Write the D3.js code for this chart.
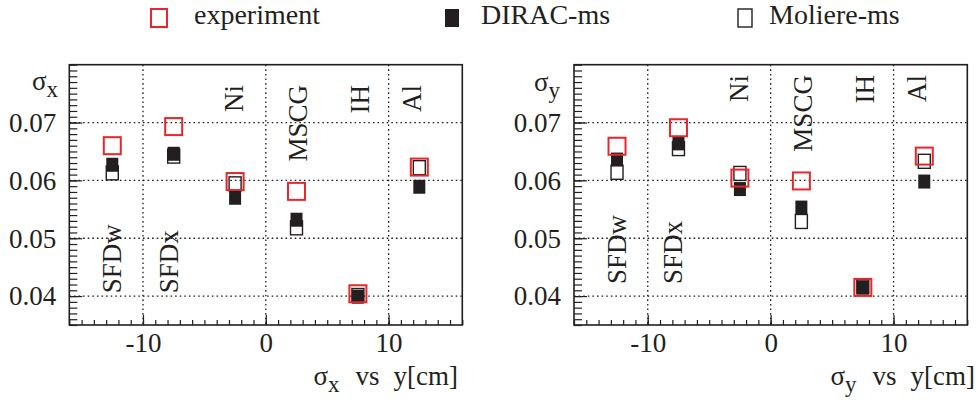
<!DOCTYPE html>
<html>
<head>
<meta charset="utf-8">
<script src="https://cdn.jsdelivr.net/npm/d3@7"></script>
<style>
  body { margin: 0; background: #fff; }
  text { font-family: "Liberation Serif", "Times New Roman", serif; fill: #231f20; }
</style>
</head>
<body>
<svg id="chart" width="978" height="405"></svg>
<script>
// Detector stations along the beam, their y position [cm]
const stations = ["SFDw", "SFDx", "Ni", "MSCG", "IH", "Al"];
const stationY = [-12.5, -7.5, -2.5, 2.5, 7.5, 12.5];

// sigma_x per station
const expSigmaX     = [0.0660, 0.0693, 0.0598, 0.0581, 0.0404, 0.0623];
const diracSigmaX   = [0.0627, 0.0646, 0.0570, 0.0532, 0.0399, 0.0589];
const moliereSigmaX = [0.0613, 0.0642, 0.0594, 0.0518, 0.0401, 0.0622];

// sigma_y per station
const expSigmaY     = [0.0659, 0.0691, 0.0604, 0.0599, 0.0415, 0.0642];
const diracSigmaY   = [0.0636, 0.0664, 0.0585, 0.0553, 0.0415, 0.0598];
const moliereSigmaY = [0.0614, 0.0655, 0.0612, 0.0529, 0.0416, 0.0633];

// Axis ranges and ticks
const xDomain = [-16, 16];
const yDomain = [0.035, 0.080];
const xMajorTicks = [-10, 0, 10];
const yMajorTicks = [0.04, 0.05, 0.06, 0.07];

// Legend entries
const legendLabels = ["experiment", "DIRAC-ms", "Moliere-ms"];

// Where the station names sit (x in cm)
const stationLabelX = [-12.5, -7.9, -2.6, 2.6, 7.7, 11.9];
const bottomLabels = ["SFDw", "SFDx"];

const ink = "#231f20";
const red = "#e8262b";
const font = 27;

const svg = d3.select("#chart");
const frameTop = 64.7, frameBottom = 325;

const panels = [
  { x0: 69.3, x1: 462.3, sym: "x", exp: expSigmaX, dirac: diracSigmaX, moliere: moliereSigmaX,
    labelTop: 0.0765, labelBottom: 0.0405, yTitleRight: 58, yTitleBase: 90, xTitleRight: 458 },
  { x0: 574.0, x1: 967.3, sym: "y", exp: expSigmaY, dirac: diracSigmaY, moliere: moliereSigmaY,
    labelTop: 0.0782, labelBottom: 0.0421, yTitleRight: 560, yTitleBase: 91, xTitleRight: 975 }
];

function drawPanel(p) {
  const x = d3.scaleLinear().domain(xDomain).range([p.x0, p.x1]);
  const y = d3.scaleLinear().domain(yDomain).range([frameBottom, frameTop]);
  const g = svg.append("g");

  // dotted grid at the major ticks
  g.append("g").selectAll("line").data(xMajorTicks).join("line")
    .attr("x1", d => x(d)).attr("x2", d => x(d))
    .attr("y1", frameTop).attr("y2", frameBottom)
    .attr("stroke", ink).attr("stroke-width", 1.3).attr("stroke-dasharray", "1.6,3");
  g.append("g").selectAll("line").data(yMajorTicks).join("line")
    .attr("x1", p.x0).attr("x2", p.x1)
    .attr("y1", d => y(d)).attr("y2", d => y(d))
    .attr("stroke", ink).attr("stroke-width", 1.3).attr("stroke-dasharray", "1.6,3");

  // minor ticks (inside the frame)
  const xMinor = d3.range(-16, 16.01, 1);
  const yMinor = d3.range(0, 46).map(i => +(0.035 + i * 0.001).toFixed(3));
  g.append("g").attr("transform", `translate(0,${frameBottom})`)
    .call(d3.axisBottom(x).tickValues(xMinor).tickSize(-5).tickFormat(""))
    .call(a => a.select(".domain").remove());
  g.append("g").attr("transform", `translate(${p.x0},0)`)
    .call(d3.axisLeft(y).tickValues(yMinor).tickSize(-8).tickFormat(""))
    .call(a => a.select(".domain").remove());

  // major ticks with labels
  g.append("g").attr("transform", `translate(0,${frameBottom})`)
    .call(d3.axisBottom(x).tickValues(xMajorTicks).tickSize(-10).tickFormat(d => String(d)))
    .call(a => a.select(".domain").remove())
    .call(a => a.selectAll("text").attr("y", 26.7).attr("dy", null)
      .style("font-size", font + "px").attr("font-family", null));
  g.append("g").attr("transform", `translate(${p.x0},0)`)
    .call(d3.axisLeft(y).tickValues(yMajorTicks).tickSize(-13).tickPadding(13).tickFormat(d3.format(".2f")))
    .call(a => a.select(".domain").remove())
    .call(a => a.selectAll("text").attr("dy", "0.33em")
      .style("font-size", font + "px").attr("font-family", null));
  g.selectAll(".tick line").attr("stroke", ink).attr("stroke-width", 1.2);

  // frame
  g.append("rect").attr("x", p.x0).attr("y", frameTop)
    .attr("width", p.x1 - p.x0).attr("height", frameBottom - frameTop)
    .attr("fill", "none").attr("stroke", ink).attr("stroke-width", 1.6);

  // station names, rotated
  stations.forEach((s, i) => {
    const isBottom = bottomLabels.includes(s);
    const px = x(stationLabelX[i]);
    const py = y(isBottom ? p.labelBottom : p.labelTop);
    g.append("text")
      .attr("transform", `translate(${px},${py}) rotate(-90)`)
      .attr("text-anchor", isBottom ? "start" : "end")
      .attr("dy", "0.33em")
      .style("font-size", font + "px")
      .text(s);
  });

  // markers: Moliere (open), DIRAC (filled), experiment (red open)
  const mw = 12, mh = 14;
  g.append("g").selectAll("rect").data(p.moliere).join("rect")
    .attr("x", (d, i) => x(stationY[i]) - mw / 2).attr("y", d => y(d) - mh / 2)
    .attr("width", mw).attr("height", mh)
    .attr("fill", "none").attr("stroke", ink).attr("stroke-width", 1.4);
  g.append("g").selectAll("rect").data(p.dirac).join("rect")
    .attr("x", (d, i) => x(stationY[i]) - mw / 2).attr("y", d => y(d) - mh / 2)
    .attr("width", mw).attr("height", mh)
    .attr("fill", ink);
  const es = 17;
  g.append("g").selectAll("rect").data(p.exp).join("rect")
    .attr("x", (d, i) => x(stationY[i]) - es / 2).attr("y", d => y(d) - es / 2)
    .attr("width", es).attr("height", es)
    .attr("fill", "none").attr("stroke", red).attr("stroke-width", 2);

  // y-axis title
  const yt = g.append("text").attr("x", p.yTitleRight).attr("y", p.yTitleBase)
    .attr("text-anchor", "end").style("font-size", font + "px");
  yt.append("tspan").text("σ");
  yt.append("tspan").attr("dy", 7).style("font-size", "23px").text(p.sym);

  // x-axis title
  const xt = g.append("text").attr("x", p.xTitleRight).attr("y", 385)
    .attr("text-anchor", "end").style("font-size", font + "px");
  xt.append("tspan").text("σ");
  xt.append("tspan").attr("dy", 7).style("font-size", "23px").text(p.sym);
  xt.append("tspan").attr("dy", -7).attr("dx", 16).text("vs");
  xt.append("tspan").attr("dx", 14).text("y[cm]");
}

panels.forEach(drawPanel);

// legend
const legendX = [159, 452, 745];
const legendTextX = [194, 481, 769];
const lg = svg.append("g");
legendLabels.forEach((name, i) => {
  const cx = legendX[i], cy = 18;
  if (i === 0) {
    lg.append("rect").attr("x", cx - 8).attr("y", cy - 9).attr("width", 16).attr("height", 18)
      .attr("fill", "none").attr("stroke", red).attr("stroke-width", 2);
  } else if (i === 1) {
    lg.append("rect").attr("x", cx - 7).attr("y", cy - 9).attr("width", 14).attr("height", 18)
      .attr("fill", ink);
  } else {
    lg.append("rect").attr("x", cx - 7).attr("y", cy - 9).attr("width", 14).attr("height", 18)
      .attr("fill", "none").attr("stroke", ink).attr("stroke-width", 1.4);
  }
  lg.append("text").attr("x", legendTextX[i]).attr("y", 24)
    .style("font-size", "28px").text(name);
});
</script>
</body>
</html>
